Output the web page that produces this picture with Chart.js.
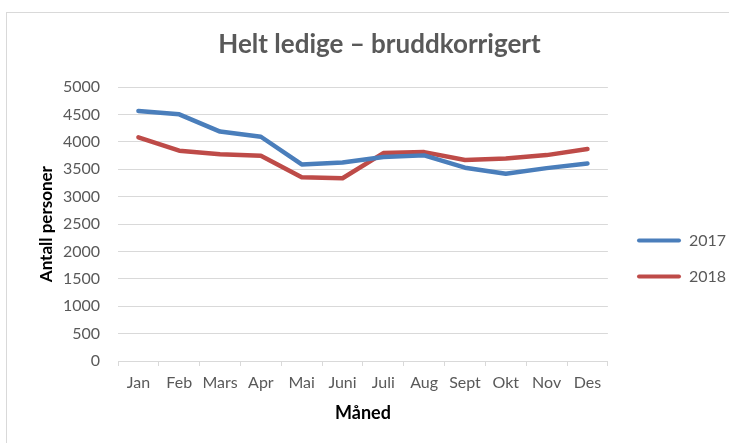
<!DOCTYPE html>
<html>
<head>
<meta charset="utf-8">
<script src="https://cdn.jsdelivr.net/npm/chart.js@4"></script>
<style>
  body { margin: 0; background: #fff; }
  #wrap { width: 729px; height: 443px; position: relative; }
</style>
</head>
<body>
<div id="wrap"><canvas id="ledige_chart" width="729" height="443"></canvas></div>
<script>
const months = ["Jan", "Feb", "Mars", "Apr", "Mai", "Juni", "Juli", "Aug", "Sept", "Okt", "Nov", "Des"];
const values2017 = [4565, 4505, 4190, 4095, 3590, 3625, 3725, 3755, 3530, 3420, 3522, 3605];
const values2018 = [4085, 3840, 3775, 3748, 3355, 3338, 3797, 3815, 3670, 3700, 3760, 3870];
const yTicks = [0, 500, 1000, 1500, 2000, 2500, 3000, 3500, 4000, 4500, 5000];

const fontName = "Lato, 'Open Sans', sans-serif";
const gray = "#595959";
const gridGray = "#d9d9d9";

// frame round the whole chart, like the excel chart border
const framePlugin = {
    id: "frame",
    beforeDraw(chart) {
        let ctx = chart.ctx;
        ctx.save();
        ctx.strokeStyle = gridGray;
        ctx.lineWidth = 1;
        ctx.strokeRect(6.5, 12.5, 900, 900);
        ctx.restore();
    },
    afterLayout(chart) {
        // move the legend so it sits where excel puts it
        let lg = chart.legend;
        if (!lg) return;
        lg.left = 617;
        lg.right = 729;
        lg.top = 87;
        lg.bottom = 430;
    }
};

new Chart("ledige_chart", {
    type: "line",
    data: {
        labels: months,
        datasets: [{
            label: "2017",
            data: values2017,
            borderColor: "#4a7ebb",
            backgroundColor: "#4a7ebb",
            borderWidth: 4.5,
            borderCapStyle: "round",
            borderJoinStyle: "round",
            pointRadius: 0,
            tension: 0,
            fill: false
        }, {
            label: "2018",
            data: values2018,
            borderColor: "#be4b48",
            backgroundColor: "#be4b48",
            borderWidth: 4.5,
            borderCapStyle: "round",
            borderJoinStyle: "round",
            pointRadius: 0,
            tension: 0,
            fill: false
        }]
    },
    options: {
        responsive: false,
        animation: false,
        devicePixelRatio: 1,
        layout: {
            padding: {top: 20, left: 32, right: 2, bottom: 15}
        },
        plugins: {
            title: {
                display: true,
                text: "Helt ledige – bruddkorrigert",
                color: gray,
                font: {family: fontName, size: 26, weight: "bold"},
                padding: {top: 9, bottom: 27}
            },
            legend: {
                display: true,
                position: "right",
                maxWidth: 120,
                labels: {
                    color: gray,
                    font: {family: fontName, size: 16},
                    boxWidth: 44,
                    boxHeight: 4,
                    padding: 20,
                    generateLabels(chart) {
                        return chart.data.datasets.map(function (ds, i) {
                            return {
                                text: ds.label,
                                fillStyle: ds.borderColor,
                                strokeStyle: ds.borderColor,
                                lineWidth: 0,
                                fontColor: gray,
                                datasetIndex: i,
                                borderRadius: 2
                            };
                        });
                    }
                }
            },
            tooltip: {enabled: false}
        },
        scales: {
            x: {
                offset: true,
                grid: {
                    offset: true,
                    drawOnChartArea: false,
                    drawTicks: true,
                    tickLength: 5,
                    color: gridGray
                },
                border: {display: true, color: gridGray},
                ticks: {
                    color: gray,
                    font: {family: fontName, size: 16},
                    padding: 7,
                    maxRotation: 0,
                    autoSkip: false
                },
                title: {
                    display: true,
                    text: "Måned",
                    color: "#000",
                    font: {family: fontName, size: 18, weight: "bold"},
                    padding: {top: 4, bottom: 4}
                },
                afterFit(scale) {
                    scale.height = 67;
                }
            },
            y: {
                min: 0,
                max: 5000,
                afterBuildTicks(scale) {
                    scale.ticks = yTicks.map(v => ({value: v}));
                },
                grid: {
                    color: gridGray,
                    drawTicks: false
                },
                border: {display: false},
                ticks: {
                    color: gray,
                    font: {family: fontName, size: 16},
                    padding: 18,
                    callback: function (v) { return String(v); }
                },
                title: {
                    display: true,
                    text: "Antall personer",
                    color: "#000",
                    font: {family: fontName, size: 17, weight: "bold"},
                    padding: {top: 4, bottom: 4}
                },
                afterFit(scale) {
                    scale.width = 86;
                }
            }
        }
    },
    plugins: [framePlugin]
});
</script>
</body>
</html>
